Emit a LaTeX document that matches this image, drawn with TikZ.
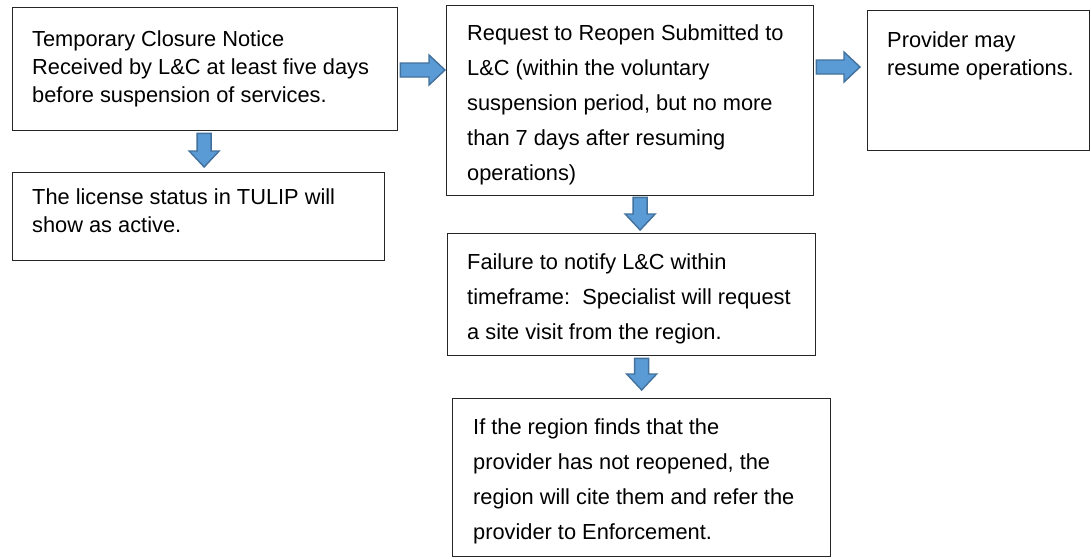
\documentclass[tikz,border=0pt]{standalone}
\usepackage{fontspec}
\setmainfont{Liberation Sans}
\usetikzlibrary{calc}
\definecolor{arrowfill}{HTML}{5B9BD5}
\definecolor{arrowline}{HTML}{41719C}
\definecolor{boxline}{HTML}{262626}
\tikzset{
  box/.style={draw=boxline, line width=1.3pt, inner sep=0pt, anchor=north west},
  txta/.style={inner sep=0pt, anchor=north west, align=left, font=\fontsize{21.8}{28}\selectfont},
  txtb/.style={inner sep=0pt, anchor=north west, align=left, font=\fontsize{21.8}{35}\selectfont},
  blockarrow/.style={fill=arrowfill, draw=arrowline, line width=1.4pt, line join=miter}
}
\newcommand\myvarrow[2]{\path[blockarrow] let \p1=#1, \p2=#2 in
  (\x1-7pt,\y1) -- (\x1+7pt,\y1) -- (\x1+7pt,\y2+16pt) -- (\x1+15pt,\y2+16pt) --
  (\x1,\y2) -- (\x1-15pt,\y2+16pt) -- (\x1-7pt,\y2+16pt) -- cycle;}
\newcommand\myharrow[2]{\path[blockarrow] let \p1=#1, \p2=#2 in
  (\x1,\y1+7pt) -- (\x2-16pt,\y1+7pt) -- (\x2-16pt,\y1+15pt) -- (\x2,\y1) --
  (\x2-16pt,\y1-15pt) -- (\x2-16pt,\y1-7pt) -- (\x1,\y1-7pt) -- cycle;}
\newcommand\fs{\rule{0pt}{18pt}}
\begin{document}
\begin{tikzpicture}[x=1pt,y=-1pt]
\useasboundingbox[fill=white] (0,0) rectangle (1091,558);
% boxes
\node[box, minimum width=385pt, minimum height=123pt] (b1) at (12,7) {};
\node[box, minimum width=372pt, minimum height=88pt] (b2) at (12,172) {};
\node[box, minimum width=367pt, minimum height=190pt] (b3) at (446,5) {};
\node[box, minimum width=222pt, minimum height=140pt] (b4) at (867,10) {};
\node[box, minimum width=368pt, minimum height=122pt] (b5) at (447,233) {};
\node[box, minimum width=378pt, minimum height=158pt] (b6) at (452,398) {};
% texts
\node[txta] (t1) at (32,28) {\fs Temporary Closure Notice\\Received by L\&C at least five days\\before suspension of services.};
\node[txta] (t2) at (32,186) {\fs The license status in TULIP will\\show as active.};
\node[txtb] (t3) at (467,22) {\fs Request to Reopen Submitted to\\L\&C (within the voluntary\\suspension period, but no more\\than 7 days after resuming\\operations)};
\node[txta] (t4) at (887,29) {\fs Provider may\\resume operations.};
\node[txtb] (t5) at (467,251) {\fs Failure to notify L\&C within\\timeframe:\ \ Specialist will request\\a site visit from the region.};
\node[txtb] (t6) at (473,416) {\fs If the region finds that the\\provider has not reopened, the\\region will cite them and refer the\\provider to Enforcement.};
% connectors
\myharrow{($(b1.north east)+(2,63)$)}{($(b3.north west)+(-1,65)$)}
\myharrow{($(b3.north east)+(2,62)$)}{($(b4.north west)+(-7,57)$)}
\myvarrow{($(b1.south)+(-1,2)$)}{($(b2.north)+(5,-5)$)}
\myvarrow{($(b3.south)+(10,1)$)}{($(b5.north)+(9,-3)$)}
\myvarrow{($(b5.south)+(10,2)$)}{($(b6.north)+(0,-8)$)}
\end{tikzpicture}
\end{document}
